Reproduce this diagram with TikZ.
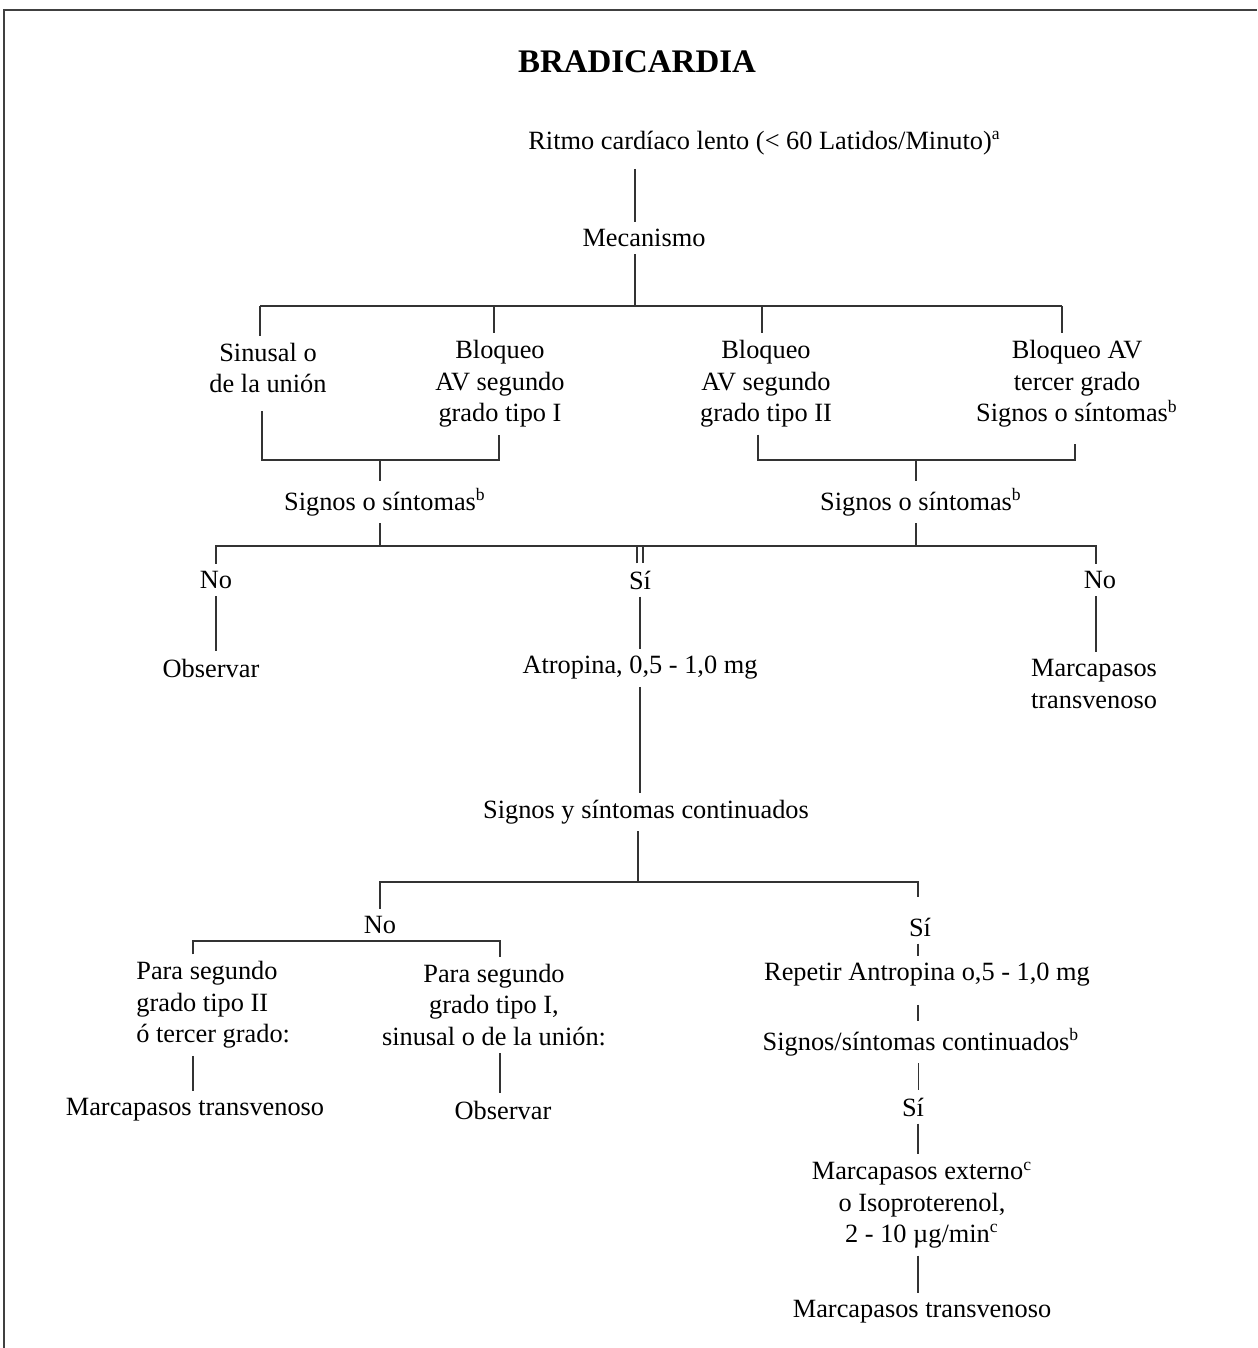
\documentclass[tikz,border=0pt]{standalone}
\usepackage{fontspec}
\setmainfont{Liberation Serif}
\usepackage{tikz}
\usetikzlibrary{positioning}

\begin{document}
\begin{tikzpicture}[x=0.016cm,y=-0.016cm,line width=0.7pt,
    every node/.style={font=\fontsize{12}{14.3}\selectfont,align=center,inner sep=3pt},
    rama/.style={draw=black!80}]
    \useasboundingbox (0,0) rectangle (1257,1348);
    \draw[black!75,line width=1.3pt] (4,1348) -- (4,10) -- (1257,10);
    \node[font=\fontsize{15}{18}\selectfont\bfseries] (tit) at (637,62) {BRADICARDIA};

    \node[anchor=west] (ritmo) at (521,143) {Ritmo cardíaco lento (< 60 Latidos/Minuto)\textsuperscript{a}};
    \node (mec) at (644,238) {Mecanismo};
    \node (sin) at (268,368) {Sinusal o\\de la unión};
    \node (bq1) at (500,384) {Bloqueo\\AV segundo\\grado tipo I};
    \node (bq2) at (766,384) {Bloqueo\\AV segundo\\grado tipo II};
    \node (bq3) at (1077,384) {Bloqueo AV\\tercer grado\\Signos o síntomas\textsuperscript{b}};
    \node (sg1) at (385,502) {Signos o síntomas\textsuperscript{b}};
    \node (sg2) at (921,502) {Signos o síntomas\textsuperscript{b}};
    \node (no1) at (216,580) {No};
    \node (si1) at (640,580) {Sí};
    \node (no2) at (1100,580) {No};
    \node (obs1) at (211,668) {Observar};
    \node (atr) at (640,668) {Atropina, 0,5 - 1,0 mg};
    \node (mt1) at (1094,684) {Marcapasos\\transvenoso};
    \node (cont) at (646,812) {Signos y síntomas continuados};
    \node (no3) at (380,925) {No};
    \node (si2) at (920,927) {Sí};
    \node[align=left,anchor=west] (pa1) at (129,1005) {Para segundo\\grado tipo II\\ó tercer grado:};
    \node (pa2) at (494,1005) {Para segundo\\grado tipo I,\\sinusal o de la unión:};
    \node (mt2) at (195,1110) {Marcapasos transvenoso};
    \node (obs2) at (503,1110) {Observar};
    \node (rep) at (927,975) {Repetir Antropina o,5 - 1,0 mg};
    \node (sc) at (921,1042) {Signos/síntomas continuados\textsuperscript{b}};
    \node (si3) at (913,1107) {Sí};
    \node (ext) at (922,1205) {Marcapasos externo\textsuperscript{c}\\o Isoproterenol,\\2 - 10 µg/min\textsuperscript{c}};
    \node (mt3) at (922,1312) {Marcapasos transvenoso};

    \coordinate (c0) at (635,306);
    \coordinate (m1) at (260,306);
    \coordinate (m2) at (494,306);
    \coordinate (m3) at (762,306);
    \coordinate (m4) at (1062,306);
    \coordinate (l1) at (262,460);
    \coordinate (l0) at (380,460);
    \coordinate (l2) at (499,460);
    \coordinate (r1) at (758,460);
    \coordinate (r0) at (916,460);
    \coordinate (r2) at (1075,460);
    \coordinate (b1) at (216,546);
    \coordinate (b1s) at (643,546);
    \coordinate (b2s) at (637,546);
    \coordinate (b2) at (1096,546);
    \coordinate (d0) at (638,882);
    \coordinate (d1) at (380,882);
    \coordinate (d2) at (918,882);
    \coordinate (e1) at (193,941);
    \coordinate (e2) at (500,941);

    \draw[rama] ([yshift=-3pt]ritmo.south -| c0) -- (mec.north -| c0);
    \draw[rama] (mec.south -| c0) -- (c0);
    \draw[rama] (m1) -- (m4);
    \foreach \m/\n in {m1/sin,m2/bq1,m3/bq2,m4/bq3}
      \draw[rama] (\m) -- (\n.north -| \m);
    \draw[rama] ([yshift=-5pt]sin.south -| l1) -- (l1) -- (l2) -- (bq1.south -| l2);
    \draw[rama] (l0) -- (sg1.north -| l0);
    \draw[rama] (bq2.south -| r1) -- (r1) -- (r2) -- ([yshift=-4pt]bq3.south -| r2);
    \draw[rama] (r0) -- (sg2.north -| r0);
    \draw[rama] (sg1.south -| l0) -- (l0 |- b1);
    \draw[rama] (sg2.south -| r0) -- (r0 |- b2);
    \draw[rama] (no1.north -| b1) -- (b1) -- (b1s) -- (si1.north -| b1s);
    \draw[rama] (si1.north -| b2s) -- (b2s) -- (b2) -- (no2.north -| b2);
    \draw[rama] (no1.south -| b1) -- (obs1.north -| b1);
    \draw[rama] (si1) -- (atr);
    \draw[rama] (no2.south -| b2) -- (mt1.north -| b2);
    \draw[rama] (atr.south -| si1) -- (cont.north -| si1);
    \draw[rama] (cont.south -| d0) -- (d0);
    \draw[rama,shorten >=6pt] (no3.north -| d1) -- (d1) -- (d2) -- (si2.north -| d2);
    \draw[rama] (pa1.north -| e1) -- (e1) -- (e2) -- (pa2.north -| e2);
    \draw[rama] (pa1.south -| e1) -- (mt2.north -| e1);
    \draw[rama] (pa2.south -| e2) -- (obs2.north -| e2);
    \draw[rama] (si2.south -| d2) -- (rep.north -| d2);
    \draw[rama] ([yshift=-5pt]rep.south -| d2) -- (sc.north -| d2);
    \draw[rama,line width=0.4pt] (sc.south -| d2) -- (si3.north -| d2);
    \draw[rama] (si3.south -| d2) -- (ext.north -| d2);
    \draw[rama] (ext.south -| d2) -- (mt3.north -| d2);
\end{tikzpicture}
\end{document}
